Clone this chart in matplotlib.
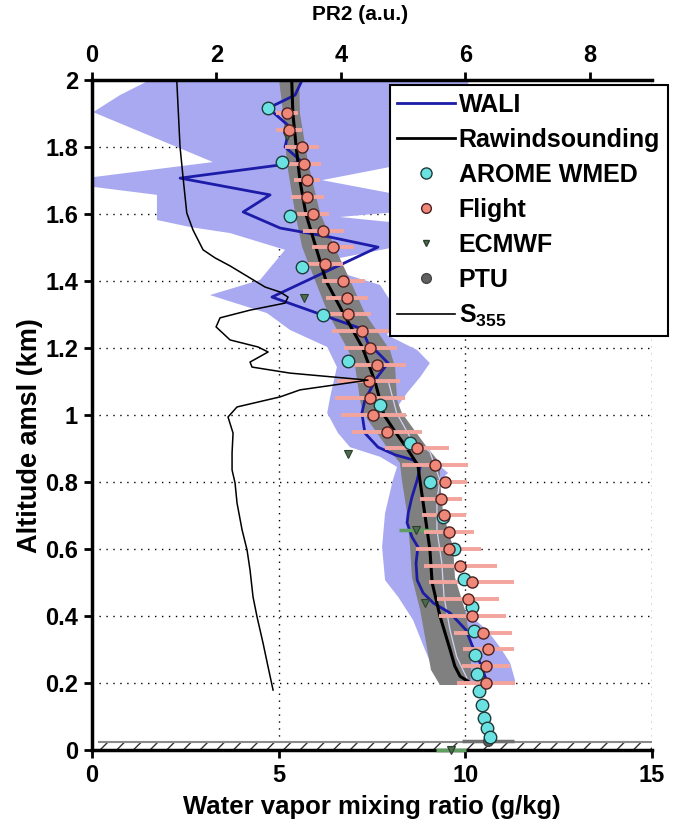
import matplotlib
matplotlib.use("Agg")
import matplotlib.pyplot as plt
from matplotlib.lines import Line2D

plt.rcParams['font.family'] = ['Liberation Sans Narrow', 'Liberation Sans', 'DejaVu Sans']
plt.rcParams['font.weight'] = 'bold'
plt.rcParams['mathtext.fontset'] = 'custom'
plt.rcParams['mathtext.bf'] = 'Liberation Sans:bold'
plt.rcParams['mathtext.rm'] = 'Liberation Sans:bold'
plt.rcParams['hatch.linewidth'] = 1.0

# ---------------- data ----------------
# Flight (aircraft) water vapour mixing ratio (g/kg) with uncertainty
flight_alt = [1.90, 1.85, 1.80, 1.75, 1.70, 1.65, 1.60, 1.55, 1.50, 1.45, 1.40, 1.35,
              1.30, 1.25, 1.20, 1.15, 1.10, 1.05, 1.00, 0.95, 0.90, 0.85, 0.80, 0.75,
              0.70, 0.65, 0.60, 0.55, 0.50, 0.45, 0.40, 0.35, 0.30, 0.25, 0.20]
flight_q = [5.22, 5.28, 5.62, 5.68, 5.76, 5.77, 5.91, 6.20, 6.46, 6.24, 6.73, 6.82,
            6.85, 7.23, 7.45, 7.63, 7.41, 7.45, 7.53, 7.90, 8.71, 9.19, 9.46, 9.35,
            9.43, 9.57, 9.55, 9.87, 10.17, 10.06, 10.19, 10.48, 10.62, 10.56, 10.56]
flight_err = [0.30, 0.35, 0.45, 0.45, 0.36, 0.45, 0.43, 0.54, 0.56, 0.47, 0.58, 0.56,
              0.62, 0.80, 0.71, 0.78, 0.85, 0.94, 0.87, 0.94, 0.85, 0.89, 0.58, 0.56,
              0.58, 0.67, 0.87, 0.98, 1.14, 0.83, 0.89, 0.78, 0.69, 0.65, 0.78]

# AROME WMED
arome_alt = [1.916, 1.756, 1.594, 1.443, 1.299, 1.161, 1.029, 0.916, 0.799, 0.696, 0.599,
             0.510, 0.428, 0.354, 0.284, 0.227, 0.175, 0.133, 0.095, 0.065, 0.039]
arome_q = [4.71, 5.08, 5.31, 5.62, 6.18, 6.87, 7.72, 8.53, 9.05, 9.40, 9.70,
           9.96, 10.18, 10.23, 10.26, 10.30, 10.36, 10.44, 10.51, 10.58, 10.67]

# ECMWF
ecmwf_alt = [1.834, 1.348, 0.884, 0.657, 0.438, 0.0]
ecmwf_q = [5.22, 5.68, 6.87, 8.68, 8.92, 9.61]
ecmwf_err = [0.0, 0.0, 0.0, 0.45, 0.0, 0.40]

# PTU envelope
ptu_alt = [2.0, 1.901, 1.752, 1.603, 1.501, 1.403, 1.304, 1.194, 1.143, 1.045, 1.006,
           0.904, 0.857, 0.806, 0.707, 0.606, 0.516, 0.418, 0.319, 0.239, 0.194]
ptu_lo = [5.01, 5.12, 5.22, 5.44, 5.63, 5.97, 6.32, 6.86, 7.05, 7.18, 7.26,
          7.90, 8.25, 8.30, 8.44, 8.52, 8.57, 8.79, 8.95, 9.08, 9.32]
ptu_hi = [5.55, 5.57, 5.79, 6.11, 6.50, 6.91, 7.31, 7.98, 8.12, 8.17, 8.30,
          8.97, 9.32, 9.32, 9.40, 9.67, 9.72, 9.99, 10.15, 10.15, 10.13]
# PTU thin line
ptu_line_alt = [1.104, 1.006, 0.934, 0.890, 0.806, 0.746, 0.657, 0.558, 0.457, 0.358, 0.278, 0.215]
ptu_line_q = [7.93, 8.16, 8.52, 9.05, 9.32, 9.24, 9.24, 9.37, 9.43, 9.59, 9.77, 10.04]
# PTU surface
ptu_sfc_alt = [0.028]
ptu_sfc_q = [10.61]
ptu_sfc_err = [0.70]

# Rawindsounding
raw_alt = [2.0, 1.9, 1.8, 1.7, 1.6, 1.5, 1.4, 1.3, 1.2, 1.1, 1.0, 0.95, 0.9, 0.85,
           0.8, 0.7, 0.6, 0.5, 0.4, 0.3, 0.25, 0.22, 0.205]
raw_q = [5.35, 5.38, 5.47, 5.57, 5.73, 6.00, 6.27, 6.75, 7.25, 7.58, 7.82, 8.12, 8.44, 8.73,
         8.79, 8.92, 9.05, 9.11, 9.32, 9.59, 9.72, 9.86, 10.07]

# WALI lidar
wali_alt = [2.0, 1.955, 1.916, 1.860, 1.800, 1.755, 1.707, 1.657, 1.606, 1.558, 1.531,
            1.501, 1.352, 1.299, 1.257, 1.215, 1.179, 1.155, 1.113, 1.045, 1.006, 0.946,
            0.904, 0.881, 0.866, 0.845, 0.806, 0.755, 0.707, 0.678, 0.636, 0.606, 0.558,
            0.507, 0.469, 0.439, 0.409, 0.358, 0.299, 0.254, 0.203]
wali_q = [5.63, 5.44, 4.72, 5.30, 5.17, 5.63, 2.36, 4.77, 4.05, 5.04, 6.38,
          7.66, 4.82, 6.16, 7.23, 7.39, 7.72, 7.93, 7.64, 7.31, 7.23, 7.31,
          7.66, 8.12, 8.60, 8.79, 8.71, 8.57, 8.47, 8.44, 8.57, 8.73, 8.68,
          8.71, 8.87, 9.14, 9.59, 10.02, 10.23, 10.42, 10.58]
# WALI uncertainty envelope: left edge (top->bottom) and right edge (bottom->top)
wali_left_alt = [2.0, 1.955, 1.904, 1.755, 1.710, 1.681, 1.657, 1.582, 1.561, 1.543, 1.493,
                 1.403, 1.358, 1.304, 1.254, 1.203, 1.143, 1.054, 1.006, 0.946, 0.904,
                 0.875, 0.845, 0.806, 0.707, 0.606, 0.507, 0.457, 0.388, 0.299, 0.194]
wali_left_q = [1.55, 0.75, 0.03, 3.24, 0.03, 0.03, 1.74, 1.74, 2.63, 3.70, 5.17,
               4.50, 3.16, 4.69, 5.30, 6.30, 6.56, 6.38, 6.30, 6.59, 6.91,
               7.72, 8.17, 8.06, 7.85, 7.77, 7.85, 8.20, 8.60, 8.92, 9.32]
wali_right_alt = [0.194, 0.209, 0.260, 0.307, 0.358, 0.409, 0.457, 0.507, 0.606, 0.707,
                  0.806, 0.827, 0.866, 0.916, 0.964, 1.015, 1.066, 1.113, 1.155, 1.194,
                  1.239, 1.284, 1.343, 1.388, 1.439, 1.463, 1.504, 1.567, 1.591, 1.612,
                  1.657, 1.701, 1.746, 1.821, 1.904, 2.0]
wali_right_q = [11.33, 11.33, 11.20, 10.93, 10.58, 10.05, 9.72, 9.72, 9.67, 9.40,
                9.32, 9.54, 9.13, 8.60, 8.25, 8.12, 8.44, 8.79, 9.05, 8.71,
                7.90, 8.12, 7.98, 7.72, 6.24, 6.38, 8.25, 8.79, 6.64, 8.79,
                8.25, 6.16, 8.25, 9.05, 9.59, 10.13]

# S355 lidar signal (PR2, top axis)
s355_alt = [2.0, 1.8, 1.701, 1.603, 1.552, 1.493, 1.469, 1.445, 1.409, 1.382, 1.367, 1.352,
            1.334, 1.313, 1.290, 1.263, 1.224, 1.203, 1.188, 1.158, 1.143, 1.125, 1.104,
            1.075, 1.054, 1.024, 0.994, 0.946, 0.887, 0.836, 0.797, 0.737, 0.657, 0.597,
            0.537, 0.457, 0.397, 0.319, 0.248, 0.179]
s355_pr = [1.362, 1.415, 1.468, 1.523, 1.624, 1.785, 1.977, 2.219, 2.540, 2.781, 3.023, 3.151,
           3.103, 2.540, 2.058, 1.994, 2.219, 2.669, 2.830, 2.540, 2.572, 3.183, 4.437,
           3.344, 3.023, 2.331, 2.186, 2.267, 2.251, 2.251, 2.299, 2.331, 2.412, 2.492,
           2.540, 2.588, 2.653, 2.749, 2.830, 2.910]

# axes ticks
x_ticks = [0, 5, 10, 15]
y_ticks = [0, 0.2, 0.4, 0.6, 0.8, 1.0, 1.2, 1.4, 1.6, 1.8, 2.0]
y_ticklabels = ['0', '0.2', '0.4', '0.6', '0.8', '1', '1.2', '1.4', '1.6', '1.8', '2']
top_ticks = [0, 2, 4, 6, 8]

# ---------------- colours ----------------
c_shade = '#a9a9f2'
c_ptu = '#808080'
c_wali = '#1c1ca8'
c_arome = '#6ae2e2'
c_flight = '#f0887a'
c_flight_err = '#f3a49c'
c_ecmwf = '#4d6b4d'
c_ecmwf_err = '#5f9f5f'

# ---------------- figure ----------------
fig = plt.figure(figsize=(6.75, 8.22), dpi=100)
ax = fig.add_axes([0.1363, 0.0876, 0.8296, 0.8151])
ax.set_xlim(0, 15)
ax.set_ylim(0, 2)
ax.set_axisbelow(True)
ax.grid(True, linestyle=(0, (1, 4)), color='black', linewidth=1.0)

# WALI envelope
ax.fill(wali_left_q + wali_right_q, wali_left_alt + wali_right_alt,
        facecolor=c_shade, edgecolor='none', zorder=1)
# PTU envelope
ax.fill_betweenx(ptu_alt, ptu_lo, ptu_hi, facecolor=c_ptu, edgecolor='none', zorder=2)
ax.plot(ptu_line_q, ptu_line_alt, color='#d2d2f4', lw=0.9, zorder=2.5)

# ground hatch
ax.fill_between([0, 15], [0, 0], [0.025, 0.025], facecolor='white',
                edgecolor='#333333', hatch='//', linewidth=0, zorder=2)
ax.plot([0.2, 15], [0.025, 0.025], color='#8a8a8a', lw=1.5, zorder=2.2)

# WALI line
ax.plot(wali_q, wali_alt, color=c_wali, lw=2.0, zorder=3)
# Rawindsounding
ax.plot(raw_q, raw_alt, color='black', lw=2.2, zorder=4)

# PTU surface
ax.errorbar(ptu_sfc_q, ptu_sfc_alt, xerr=ptu_sfc_err, fmt='o', ms=7, mfc='#5a5a5a',
            mec='#444444', ecolor='#707070', elinewidth=2.5, capsize=0, zorder=5, clip_on=False)

# ECMWF
ax.errorbar(ecmwf_q, ecmwf_alt, xerr=ecmwf_err, fmt='none', ecolor=c_ecmwf_err,
            elinewidth=2.5, capsize=0, zorder=5, clip_on=False)
ax.plot(ecmwf_q, ecmwf_alt, 'v', ms=6, mfc=c_ecmwf, mec='#2c3f2c', mew=0.8,
        zorder=5.5, clip_on=False)

# AROME
ax.plot(arome_q, arome_alt, 'o', ms=9, mfc=c_arome, mec='#1f3b3b', mew=1.0, zorder=6)

# Flight
ax.errorbar(flight_q, flight_alt, xerr=flight_err, fmt='none', ecolor=c_flight_err,
            elinewidth=2.8, capsize=0, zorder=5.8)
ax.plot(flight_q, flight_alt, 'o', ms=8, mfc=c_flight, mec='#4a2020', mew=1.0, zorder=7)

# axes styling
ax.set_xticks(x_ticks)
ax.set_xticklabels([str(t) for t in x_ticks])
ax.set_yticks(y_ticks)
ax.set_yticklabels(y_ticklabels)
ax.tick_params(axis='both', direction='out', length=6, width=2, labelsize=17, pad=4)
for s in ['top', 'right']:
    ax.spines[s].set_visible(False)
for s in ['left', 'bottom']:
    ax.spines[s].set_linewidth(2.5)
ax.set_xlabel('Water vapor mixing ratio (g/kg)', fontsize=18.5, fontweight='bold', labelpad=6)
ax.set_ylabel('Altitude amsl (km)', fontsize=19.5, fontweight='bold')
ax.yaxis.set_label_coords(-0.088, 0.47)

# top axis: PR2
ax2 = ax.twiny()
ax2.set_xlim(0, 9)
ax2.set_ylim(0, 2)
ax2.plot(s355_pr, s355_alt, color='black', lw=1.1, zorder=3)
ax2.set_xticks(top_ticks)
ax2.tick_params(axis='x', direction='out', length=6, width=2, labelsize=17, pad=3)
for s in ['bottom', 'left', 'right']:
    ax2.spines[s].set_visible(False)
ax2.spines['top'].set_linewidth(2.5)
ax2.set_xlabel('PR2 (a.u.)', fontsize=15, fontweight='bold')
ax2.xaxis.set_label_coords((360 - 92) / 560, 1.09)

handles = [
    Line2D([], [], color=c_wali, lw=2),
    Line2D([], [], color='black', lw=2),
    Line2D([], [], ls='none', marker='o', ms=8, mfc=c_arome, mec='#1f3b3b'),
    Line2D([], [], ls='none', marker='o', ms=7, mfc=c_flight, mec='#4a2020'),
    Line2D([], [], ls='none', marker='v', ms=5, mfc=c_ecmwf, mec='#2c3f2c'),
    Line2D([], [], ls='none', marker='o', ms=7, mfc='#606060', mec='#444444'),
    Line2D([], [], color='black', lw=1.2),
]
labels = ['WALI', 'Rawindsounding', 'AROME WMED', 'Flight', 'ECMWF', 'PTU',
          r'$\mathbf{S}_{\mathbf{355}}$']
leg = ax2.legend(handles, labels, loc='upper left', bbox_to_anchor=(0.532, 0.9925),
                 borderaxespad=0, frameon=True, fancybox=False, framealpha=1,
                 edgecolor='black', handlelength=2.3, handletextpad=0.15,
                 labelspacing=0.44, borderpad=0.3,
                 prop={'family': 'Liberation Sans', 'weight': 'bold', 'size': 18})
leg.get_frame().set_linewidth(1.5)

fig.savefig('out.png', dpi=100)
